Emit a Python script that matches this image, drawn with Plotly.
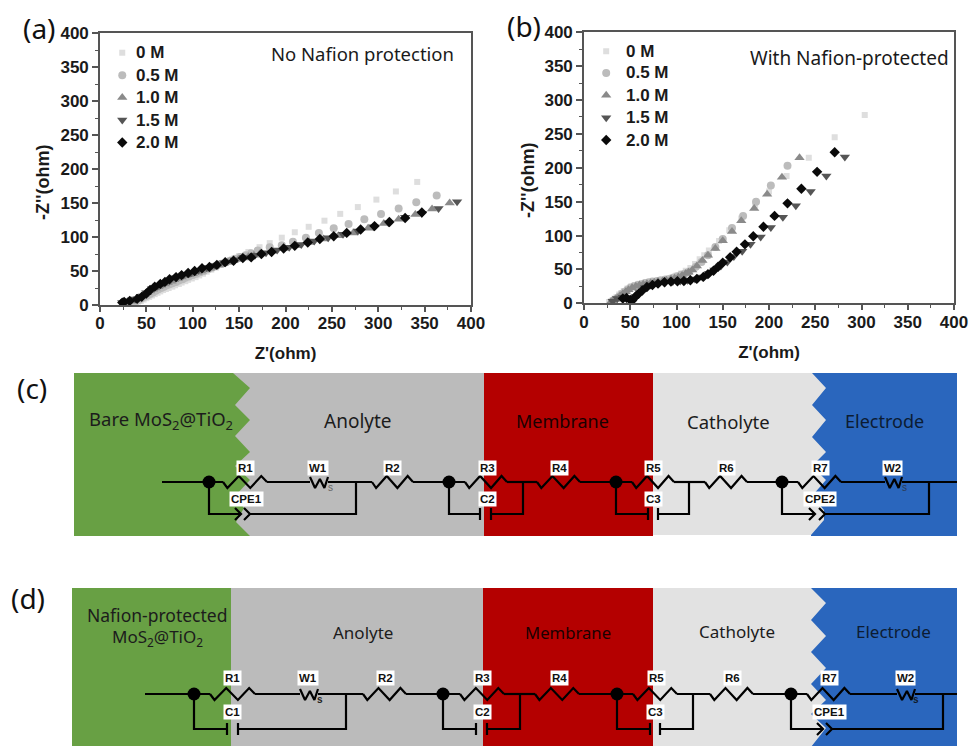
import plotly.graph_objects as go

W, H = 969, 746

# ---------- Panel (a) data ----------
a0_x = [32,35,38,41,44,47,50,53,56,59,62,65,68,71,74,78,81,85,88,92,95,99,103,107,111,115,120,125,130,135,140,145,150,160,172,183,196,210,225,242,259,278,298,319,342]
a0_y = [1,2,3,5,6,8,10,12,14,16,18,20,22,23.5,25,27,29,31,33,35,37,39,41,43.5,46,49,52,55,59,62,66,69,72,78,85,91,99,107,115,124,134,144,155,167,181]
a05_x = [30,33,36,39,42,45,48,51,54,57,60,63,66,69,72,75,78,82,85,89,92,96,100,104,108,112,117,121,126,131,136,141,146,151,157,163,170,183,196,208,222,236,252,268,285,303,322,341,363]
a05_y = [2,3,4,5.5,7.5,10,12,14,16,18.5,21,23,25,27,29,30.5,32,34,36,38,40,42,44,46,48,50,53,55,58,60.5,63,65.5,68,70.5,73,76,80,85,88,93,99,106,113,119,126,134,142,151,161]
a10_x = [26,28,30,33,36,39,42,45,48,51,54,57,60,63,66,70,73,77,80,84,88,92,96,100,105,109,114,118,123,128,133,138,144,149,155,160,166,172,185,198,212,226,241,257,273,289,306,322,340,358,377]
a10_y = [3,4,5,5.5,6.5,8.5,11,13,15.5,18,20.5,23,25,27,29,31,33,35,37,39,41,43,44.5,46,48,50,52,54,56.5,59,61,63,65,67,69,71,73,75,79,83,87,92,97,102,106,113,120,126,133,141,150]
a15_x = [24,27,32,38,44,50,56,62,68,75,82,90,98,106,115,124,134,145,155,167,179,191,204,217,231,246,262,278,295,311,329,347,365,385]
a15_y = [3.5,5,6,9,13,18,24,28,32,36,40,44,47,51,55,58,62,66,70,73,77,81,85,89,94,99,104,109,115,121,129,135,142,152]
a20_x = [24,26,32,40,45,50,54,59,65,70,75,82,88,95,102,110,118,126,135,144,154,163,174,185,198,210,224,237,252,266,281,296,312,329,347]
a20_y = [3.5,4.5,6,9,12,17,22,27,31,34,38,41,44,47,50,54,56,59,63,65,69,70,75,78,83,87,92,97,101,106,111,116,122,128,136]

# ---------- Panel (b) data ----------
b0_x = [27,29,31,33,35,38,40,43,47,51,55,60,65,70,75,80,85,90,95,100,105,110,115,120,125,130,135,146,157,170,185,200,219,243,271,303.5]
b0_y = [2,3,5,7,9,13,15,18,22,25,27,29,30,31,32,33,34,36,38,41,44,48,52,58,65,71,78,92,108,125,145,165,188,215,245,278]
b05_x = [31,33,36,38,41,44,47,50,54,58,62,66,70,74,79,83,88,92,97,101,105,109,114,121,127,134,142,150,160,172,186,202,220]
b05_y = [3,5,8,10,14,17,20,23,25,27,28,30,31,32,33,34,35,36,38,40,42,44,47,54,61,71,83,95,111,129,150,174,203]
b10_x = [29,31,34,36,39,42,45,48,52,56,60,64,68,72,76,80,85,89,94,98,102,106,110,113,117,122,128,134,142,150,160,170,184,198,214,233]
b10_y = [2,4,6,8,11,14,17,20,23,25,27,28,29,30,31,32,33,34,36,37,39,41,44,46,49,55,63,71,81,92.5,106,122,140,161,186,215]
b15_x = [31,36,42,48,52,56,60,66,72,80,88,96,104,112,120,128,135,141,148,155,162,171,180,191,202,215,229,245,262,282]
b15_y = [3,7,9,8,5,10,16,23,27,29,31,32,33,34,36,39,44,49,55,61,69,77,87,98,112,127,144,165,188,216]
b20_x = [42,46,50,52,55,59,63,68,74,80,87,94,101,108,115,122,129,134,140,145,150,158,165,174,183,194,206,220,235,252,271]
b20_y = [7,8,5,4,9,14,19,24,27,29,31,32,32.5,33,34,36,39,43,48,54,60,68,76,87,99,113,129,147.5,169,194,223]

series_names = ["0 M", "0.5 M", "1.0 M", "1.5 M", "2.0 M"]
series_symbols = ["square", "circle", "triangle-up", "triangle-down", "diamond"]
series_colors = ["#dedede", "#bcbcbc", "#8a8a8a", "#555555", "#0a0a0a"]
series_sizes = [6, 8, 9, 9, 8]
a_series = [(a0_x, a0_y), (a05_x, a05_y), (a10_x, a10_y), (a15_x, a15_y), (a20_x, a20_y)]
b_series = [(b0_x, b0_y), (b05_x, b05_y), (b10_x, b10_y), (b15_x, b15_y), (b20_x, b20_y)]

ticks = [0, 50, 100, 150, 200, 250, 300, 350, 400]
minor_ticks = [25, 75, 125, 175, 225, 275, 325, 375]
legend_y_a = [371, 338, 305, 272, 239]
legend_y_b = [372, 340, 307, 274, 241]
legend_marker_x = 24

FONT_B = "Liberation Sans"
FONT_N = "Noto Sans"

fig = go.Figure()

def poly(points, color):
    xs = [p[0] for p in points] + [points[0][0]]
    ys = [p[1] for p in points] + [points[0][1]]
    fig.add_trace(go.Scatter(x=xs, y=ys, mode="lines", fill="toself", fillcolor=color,
                             line=dict(width=0), xaxis="x3", yaxis="y3",
                             hoverinfo="skip", showlegend=False))

def rect(x0, x1, y0, y1, color):
    poly([(x0, y0), (x1, y0), (x1, y1), (x0, y1)], color)

def draw(paths, width=2.2, color="black"):
    xs, ys = [], []
    for p in paths:
        xs += [q[0] for q in p] + [None]
        ys += [q[1] for q in p] + [None]
    fig.add_trace(go.Scatter(x=xs, y=ys, mode="lines", line=dict(color=color, width=width),
                             xaxis="x3", yaxis="y3", hoverinfo="skip", showlegend=False))

def resistor(x0, x1, y):
    fr = [(0, 0), (.1, 6), (.36, -6), (.62, 6), (.87, -6), (1, 0)]
    return [(x0 + f * (x1 - x0), y + d) for f, d in fr]

def warburg(x0, x1, y):
    fr = [(0, -5), (.28, 6), (.55, -3), (.8, 6), (1, -5)]
    return [(x0 + f * (x1 - x0), y + d) for f, d in fr]

def chevron(tip, y):
    return [(tip - 6, y - 6), (tip, y), (tip - 6, y + 6)]

def plate(x, y):
    return [(x, y - 6), (x, y + 6)]

def circuit(y, ybr, x_start, x_end, nodes, res, wbg, branches):
    paths = []
    elems = sorted([(a, b, "r") for a, b in res] + [(a, b, "w") for a, b in wbg])
    cur = x_start
    for a, b, k in elems:
        paths.append([(cur, y), (a, y)])
        paths.append(resistor(a, b, y) if k == "r" else warburg(a, b, y))
        cur = b
    paths.append([(cur, y), (x_end, y)])
    for n, l, r, ret, kind in branches:
        paths.append([(n, y), (n, ybr), (l, ybr)])
        paths.append([(r, ybr), (ret, ybr), (ret, y)])
        if kind == "cpe":
            paths += [chevron(l, ybr), chevron(r, ybr)]
        else:
            paths += [plate(l, ybr), plate(r, ybr)]
    draw(paths)
    fig.add_trace(go.Scatter(x=nodes, y=[y] * len(nodes), mode="markers",
                             marker=dict(color="black", size=13), xaxis="x3", yaxis="y3",
                             hoverinfo="skip", showlegend=False))

annos = []
def text(x, y, s, size, font=FONT_N, color="#1c1c1c", bg=None, pad=0, **kw):
    annos.append(dict(x=x, y=y, xref="x3", yref="y3", text=s, showarrow=False, borderpad=pad,
                      font=dict(family=font, size=size, color=color),
                      bgcolor=bg if bg else "rgba(0,0,0,0)", **kw))

def label(x, y, s):
    text(x, y, f"<b>{s}</b>", 11.5, FONT_B, "#111111", "white", 1)

# ---------- panel (c) ----------
top, bot = 373, 536
green_c = [(74, top), (233, top), (250, 388), (235, 405), (250, 420), (235, 436), (250, 452),
           (235, 466), (250, 480), (235, 496), (244, 508), (236, 522), (250, bot), (74, bot)]
gray_c = [(225, top), (484, top), (484, bot), (225, bot)]
poly(gray_c, "#bbbbbb")
poly(green_c, "#68a044")
rect(484, 653, top, bot, "#b40000")
rect(653, 830, top, bot - 1, "#e2e2e2")
blue_c = [(957, top), (812, top), (826, 388), (812, 405), (826, 420), (812, 437), (826, 452),
          (812, 466), (826, 480), (812, 496), (824, 510), (824, 520), (811, 535), (811, bot), (957, bot)]
poly(blue_c, "#2a66bd")

circuit(482, 514, 162, 957, [209, 449, 616, 782],
        [(223, 267), (372, 413), (465, 507), (537, 580), (632, 674), (705, 747), (798, 841)],
        [(310, 328), (885, 902)],
        [(209, 241, 250, 356, "cpe"), (449, 480, 491, 523, "cap"),
         (616, 648, 658, 689, "cap"), (782, 815, 825, 929, "cpe")])
for x, s in [(245, "R1"), (318, "W1"), (392, "R2"), (487, "R3"), (559, "R4"), (653, "R5"),
             (726, "R6"), (820, "R7"), (892, "W2")]:
    label(x, 468, s)
for x, s in [(246, "CPE1"), (487, "C2"), (653, "C3"), (820, "CPE2")]:
    label(x, 499, s)
text(330, 487, "s", 10, FONT_B, "#666666")
text(904, 487, "s", 10, FONT_B, "#2b3a55")
text(161, 420, "Bare MoS<sub>2</sub>@TiO<sub>2</sub>", 18.5)
text(358, 421, "Anolyte", 19)
text(562, 421, "Membrane", 18, color="#1a0000")
text(728, 421, "Catholyte", 18.5)
text(884, 421, "Electrode", 18, color="#0c1c33")

# ---------- panel (d) ----------
top, bot = 588, 747
rect(72, 231, top, bot, "#68a044")
rect(231, 483, top, bot, "#bbbbbb")
rect(483, 653, top, bot, "#b40000")
rect(653, 830, top, bot, "#e2e2e2")
blue_d = [(957, top), (811, top), (826, 603), (811, 620), (826, 636), (811, 652), (826, 668),
          (811, 684), (826, 700), (811, 714), (826, 728), (811, bot), (957, bot)]
poly(blue_d, "#2a66bd")

circuit(694, 729, 145, 957, [194, 443, 617, 791],
        [(210, 255), (363, 406), (460, 504), (535, 579), (633, 677), (710, 753), (807, 850)],
        [(300, 318), (897, 915)],
        [(194, 227, 238, 346, "cap"), (443, 476, 487, 520, "cap"),
         (617, 650, 660, 693, "cap"), (791, 823, 832, 943, "cpe")])
for x, s in [(232, "R1"), (308, "W1"), (385, "R2"), (482, "R3"), (559, "R4"), (656, "R5"),
             (732, "R6"), (829, "R7"), (905, "W2")]:
    label(x, 678, s)
for x, s in [(232, "C1"), (482, "C2"), (655, "C3"), (829, "CPE1")]:
    label(x, 712, s)
text(320, 699, "<b>s</b>", 10, FONT_B, "#222222")
text(916, 699, "<b>s</b>", 10, FONT_B, "#111a2a")
text(157, 615, "Nafion-protected", 17.5)
text(157, 637, "MoS<sub>2</sub>@TiO<sub>2</sub>", 17)
text(363, 632, "Anolyte", 17)
text(568, 632, "Membrane", 16.7, color="#1a0000")
text(737, 631, "Catholyte", 17)
text(893, 631, "Electrode", 17, color="#0c1c33")

# panel letters
text(39, 28, "(a)", 28, color="#111111")
text(524, 26, "(b)", 28, color="#111111")
text(32, 388, "(c)", 28, color="#111111")
text(28, 598, "(d)", 28, color="#111111")

# axis titles placed as in the reference
text(43, 182, "<b>-Z''(ohm)</b>", 18, FONT_B, "#1a1a1a", textangle=-90)
text(528, 180, "<b>-Z''(ohm)</b>", 18, FONT_B, "#1a1a1a", textangle=-90)

# ---------- scatter plots ----------
for series, xa, ya, leg_y, txt_x in [(a_series, "x", "y", legend_y_a, 37), (b_series, "x2", "y2", legend_y_b, 43)]:
    for (xs, ys), name, sym, col, sz in zip(series, series_names, series_symbols, series_colors, series_sizes):
        fig.add_trace(go.Scatter(x=xs, y=ys, mode="markers", name=name, xaxis=xa, yaxis=ya,
                                 marker=dict(symbol=sym, color=col, size=sz, line=dict(width=0)),
                                 showlegend=False))
    for ly, name, sym, col, sz in zip(leg_y, series_names, series_symbols, series_colors, series_sizes):
        fig.add_trace(go.Scatter(x=[legend_marker_x], y=[ly], mode="markers", xaxis=xa, yaxis=ya,
                                 marker=dict(symbol=sym, color=col, size=sz, line=dict(width=0)),
                                 showlegend=False, hoverinfo="skip"))
        annos.append(dict(x=txt_x, y=ly, xref=xa, yref=ya, text=f"<b>{name}</b>", showarrow=False,
                          xanchor="left", font=dict(family=FONT_B, size=17, color="#1a1a1a")))

text(362, 53, "No Nafion protection", 18.5, color="#1a1a1a")
text(849, 58, "With Nafion-protected", 19, color="#1a1a1a")

def axis(domain, anchor, ticklen, title=None, standoff=0, label_shift=0):
    d = dict(domain=domain, range=[0, 400], tickmode="array", tickvals=ticks,
             ticktext=[f"<b>{t}</b>" for t in ticks], anchor=anchor, showgrid=False, zeroline=False,
             showline=True, mirror=True, linecolor="#555555", linewidth=1.6, automargin=False,
             ticks="outside", ticklen=ticklen, tickwidth=1.5, tickcolor="#555555",
             ticklabelstandoff=label_shift,
             minor=dict(tickvals=minor_ticks, ticks="outside", ticklen=3, tickwidth=1.2, tickcolor="#555555"),
             tickfont=dict(family=FONT_B, size=17, color="#1a1a1a"))
    if title:
        d["title"] = dict(text=f"<b>{title}</b>", font=dict(family=FONT_B, size=17, color="#1a1a1a"), standoff=standoff)
    return d

def fx(p):
    return p / W

def fy(p):
    return 1 - p / H

layout = dict(
    template="none",
    width=W, height=H, margin=dict(l=0, r=0, t=0, b=0, pad=0), autosize=False,
    paper_bgcolor="white", plot_bgcolor="rgba(0,0,0,0)", showlegend=False,
    xaxis=axis([fx(100), fx(471)], "y", 5, "Z'(ohm)", 15, -3),
    yaxis=axis([fy(305), fy(33)], "x", 6),
    xaxis2=axis([fx(584), fx(954)], "y2", 5, "Z'(ohm)", 16, -3),
    yaxis2=axis([fy(303.3), fy(32.3)], "x2", 6),
    xaxis3=dict(domain=[0, 1], range=[0, W], visible=False, anchor="y3", fixedrange=True, automargin=False),
    yaxis3=dict(domain=[0, 1], range=[H, 0], visible=False, anchor="x3", fixedrange=True, automargin=False),
    annotations=annos,
)
fig.update_layout(**layout)

fig.write_html("out.html", config={"displayModeBar": False},
               post_script="document.body.style.margin='0';document.body.style.overflow='hidden';")
